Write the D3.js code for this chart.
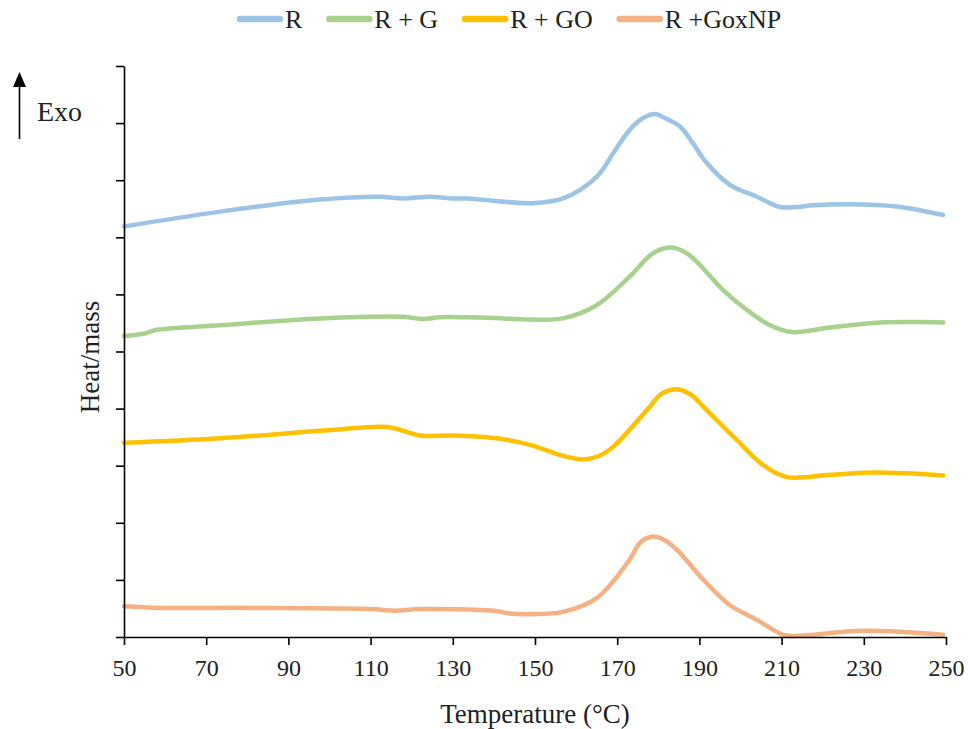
<!DOCTYPE html>
<html>
<head>
<meta charset="utf-8">
<script src="https://cdn.jsdelivr.net/npm/d3@7"></script>
<style>
  html, body { margin: 0; padding: 0; background: #fff; }
  svg { display: block; }
  text { font-family: "Liberation Serif", "Times New Roman", serif; fill: #222; }
</style>
</head>
<body>
<svg id="chart" width="970" height="729"></svg>
<script>
// ---- data (temperature °C, relative heat/mass in axis units 0..10) ----
const seriesNames = ["R", "R + G", "R + GO", "R +GoxNP"];
const seriesColors = ["#9DC3E6", "#A9D18E", "#FFC000", "#F4B183"];

const tempR = [50, 73.4, 97.7, 112.3, 117.9, 124.5, 130, 133.5, 146.4, 150, 156.8, 165, 169, 173, 176.3, 179.2, 182.1, 185.3, 188.4, 191.8, 197.4, 204, 209.6, 213.7, 217.6, 226.6, 238, 249.3];
const heatR = [7.19, 7.45, 7.66, 7.71, 7.68, 7.71, 7.68, 7.68, 7.60, 7.60, 7.68, 8.06, 8.47, 8.88, 9.09, 9.16, 9.07, 8.94, 8.65, 8.30, 7.92, 7.71, 7.53, 7.53, 7.56, 7.58, 7.54, 7.39];

const tempG = [50, 54.6, 58, 73.4, 97.7, 117.9, 122.7, 126.9, 138.3, 149, 156.8, 165, 173, 178.7, 182.8, 186.5, 189.4, 195.7, 201.5, 207.2, 212.5, 221.8, 234, 249.3];
const heatG = [5.27, 5.31, 5.38, 5.46, 5.58, 5.61, 5.57, 5.60, 5.59, 5.56, 5.58, 5.81, 6.31, 6.72, 6.82, 6.74, 6.57, 6.08, 5.73, 5.46, 5.34, 5.42, 5.51, 5.51];

const tempGO = [50, 73.4, 97.7, 112.3, 115.5, 122, 130, 140.8, 149, 156, 161.7, 165.5, 169, 177.3, 181, 184.6, 188, 191, 199.1, 205.5, 211.3, 221.8, 233.2, 249.3];
const heatGO = [3.40, 3.48, 3.61, 3.68, 3.66, 3.53, 3.53, 3.48, 3.36, 3.19, 3.11, 3.17, 3.33, 3.98, 4.27, 4.34, 4.24, 4.03, 3.45, 3.01, 2.80, 2.84, 2.88, 2.83];

const tempNP = [50, 58.8, 80, 110, 116, 122, 140, 144, 149, 156.8, 165, 172.4, 176, 178.7, 181.5, 184.6, 191, 197.4, 204, 210.3, 213.7, 229.8, 249.3];
const heatNP = [0.54, 0.51, 0.51, 0.49, 0.46, 0.49, 0.46, 0.41, 0.40, 0.44, 0.68, 1.29, 1.68, 1.76, 1.70, 1.52, 1.00, 0.56, 0.30, 0.04, 0.02, 0.11, 0.04];

const xTicks = [50, 70, 90, 110, 130, 150, 170, 190, 210, 230, 250];
const yTicks = [0, 1, 2, 3, 4, 5, 6, 7, 8, 9, 10];

const series = [
  { name: seriesNames[0], color: seriesColors[0], t: tempR, v: heatR },
  { name: seriesNames[1], color: seriesColors[1], t: tempG, v: heatG },
  { name: seriesNames[2], color: seriesColors[2], t: tempGO, v: heatGO },
  { name: seriesNames[3], color: seriesColors[3], t: tempNP, v: heatNP }
];

// ---- layout ----
const svg = d3.select("#chart");
const x = d3.scaleLinear().domain([50, 250]).range([124, 946]);
const y = d3.scaleLinear().domain([0, 10]).range([637, 66]);

// lines
const line = d3.line()
  .x(d => x(d[0]))
  .y(d => y(d[1]))
  .curve(d3.curveCatmullRom.alpha(0.5));

svg.append("g").selectAll("path")
  .data(series)
  .join("path")
  .attr("d", s => line(s.t.map((t, i) => [t, s.v[i]])))
  .attr("fill", "none")
  .attr("stroke", s => s.color)
  .attr("stroke-width", 4.5)
  .attr("stroke-linecap", "round")
  .attr("stroke-linejoin", "round");

// x axis
const xAxis = svg.append("g")
  .attr("transform", `translate(0,${y(0)})`)
  .call(d3.axisBottom(x).tickValues(xTicks).tickSize(8).tickPadding(14).tickSizeOuter(0));
xAxis.select(".domain").attr("stroke", "#000").attr("stroke-width", 1.6);
xAxis.selectAll(".tick line").attr("stroke", "#000").attr("stroke-width", 1.6);
xAxis.selectAll(".tick text")
  .attr("font-family", "Liberation Serif")
  .attr("font-size", 24)
  .attr("fill", "#222");

// y axis
const yAxis = svg.append("g")
  .attr("transform", `translate(${x(50)},0)`)
  .call(d3.axisLeft(y).tickValues(yTicks).tickSize(8).tickFormat("").tickSizeOuter(0));
yAxis.select(".domain").attr("stroke", "#000").attr("stroke-width", 1.6);
yAxis.selectAll(".tick line").attr("stroke", "#000").attr("stroke-width", 1.6);

// axis titles
svg.append("text")
  .attr("x", 535).attr("y", 723)
  .attr("text-anchor", "middle")
  .attr("font-size", 27)
  .text("Temperature (°C)");

svg.append("text")
  .attr("transform", "translate(99,357) rotate(-90)")
  .attr("text-anchor", "middle")
  .attr("font-size", 27)
  .text("Heat/mass");

// Exo arrow
svg.append("line")
  .attr("x1", 19.5).attr("x2", 19.5)
  .attr("y1", 139).attr("y2", 84)
  .attr("stroke", "#000").attr("stroke-width", 1.6);
svg.append("path")
  .attr("d", "M19.5,72 L13,87 L26,87 Z")
  .attr("fill", "#000");
svg.append("text")
  .attr("x", 37).attr("y", 121)
  .attr("font-size", 28)
  .text("Exo");

// legend
const legend = svg.append("g");
let lx = 237;
series.forEach(s => {
  legend.append("line")
    .attr("x1", lx + 3).attr("x2", lx + 43)
    .attr("y1", 19).attr("y2", 19)
    .attr("stroke", s.color)
    .attr("stroke-width", 6.5)
    .attr("stroke-linecap", "round");
  const t = legend.append("text")
    .attr("x", lx + 48).attr("y", 28)
    .attr("font-size", 26)
    .text(s.name);
  lx = lx + 48 + t.node().getComputedTextLength() + 24;
});
</script>
</body>
</html>
